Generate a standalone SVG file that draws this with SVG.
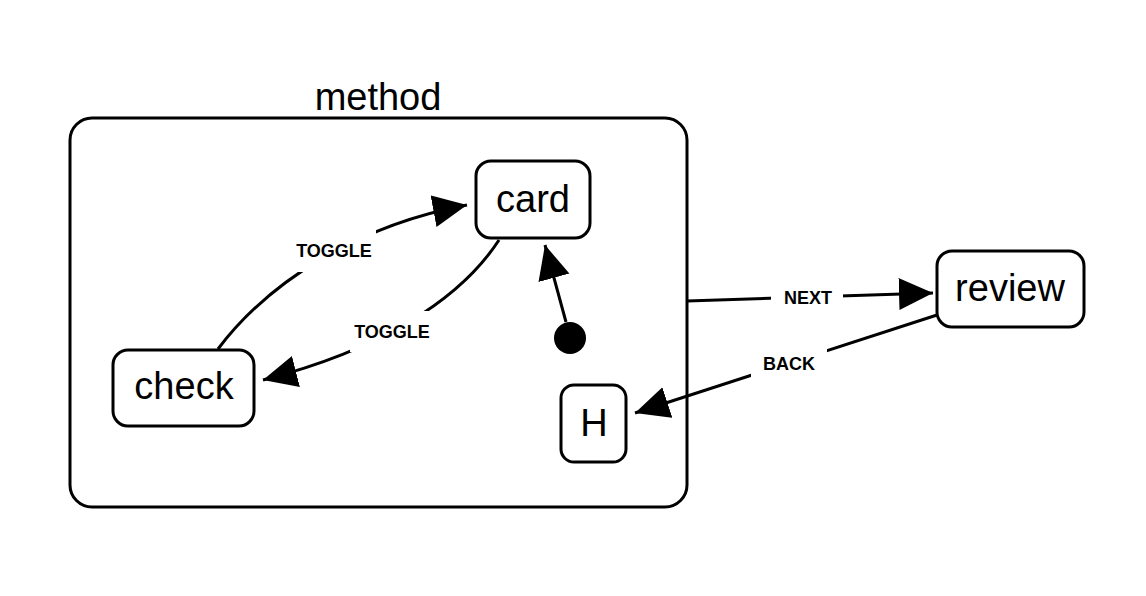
<svg xmlns="http://www.w3.org/2000/svg" width="1146" height="596" viewBox="0 0 1146 596">
<style>
.node{fill:#fff;stroke:#000;stroke-width:3}
.nt{font-family:"Liberation Sans",Arial,sans-serif;font-size:38px;fill:#000;text-anchor:middle}
.edge{fill:none;stroke:#000;stroke-width:3}
.el{font-family:"Liberation Sans",Arial,sans-serif;font-size:18px;font-weight:bold;fill:#000;text-anchor:middle}
.lb{fill:#fff;stroke:none}
</style>
<defs>
<marker id="arr" markerUnits="userSpaceOnUse" markerWidth="36" markerHeight="34" refX="34" refY="16" orient="auto">
<path d="M0,0 L34,16 L0,32 Z" fill="#000"/>
</marker>
</defs>
<rect width="1146" height="596" fill="#fff"/>
<g id="method">
<rect class="node" x="70" y="118" width="617" height="389" rx="22" ry="22"/>
<text class="nt" x="378" y="110">method</text>
</g>
<g id="card">
<rect class="node" x="476" y="161" width="114" height="77" rx="15" ry="15"/>
<text class="nt" x="533" y="212">card</text>
</g>
<g id="check">
<rect class="node" x="113" y="350" width="141" height="76" rx="15" ry="15"/>
<text class="nt" x="184" y="399">check</text>
</g>
<g id="H">
<rect class="node" x="561" y="385" width="65" height="77" rx="13" ry="13"/>
<text class="nt" x="594" y="436">H</text>
</g>
<g id="review">
<rect class="node" x="937" y="251" width="147" height="76" rx="15" ry="15"/>
<text class="nt" x="1010" y="301">review</text>
</g>
<g id="start">
<circle cx="570" cy="338" r="16" fill="#000"/>
</g>
<g id="connectors">
<path class="edge" d="M218,349 C270,280 360,225 467,205" marker-end="url(#arr)"/>
<path class="edge" d="M499,240 C460,300 380,350 263,380" marker-end="url(#arr)"/>
<path class="edge" d="M566,322 L545,245" marker-end="url(#arr)"/>
<path class="edge" d="M687,301 L933,293" marker-end="url(#arr)"/>
<path class="edge" d="M937,315 L635,413" marker-end="url(#arr)"/>
<rect class="lb" x="290" y="230" width="86" height="42"/>
<text class="el" x="334" y="257">TOGGLE</text>
<rect class="lb" x="350" y="311" width="84" height="41"/>
<text class="el" x="392" y="338">TOGGLE</text>
<rect class="lb" x="771" y="280" width="72" height="36"/>
<text class="el" x="808" y="304">NEXT</text>
<rect class="lb" x="751" y="346" width="76" height="34"/>
<text class="el" x="789" y="370">BACK</text>
</g>
</svg>
